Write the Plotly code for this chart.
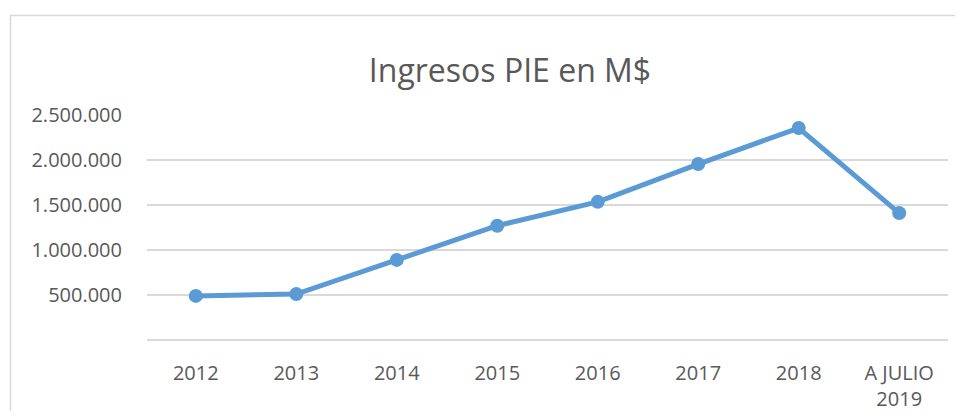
import plotly.graph_objects as go

categories = ["2012", "2013", "2014", "2015", "2016", "2017", "2018", "A JULIO<br>2019"]
ingresos = [490000, 510000, 890000, 1270000, 1535000, 1955000, 2355000, 1410000]
y_tickvals = [500000, 1000000, 1500000, 2000000, 2500000]
y_ticktext = ["500.000", "1.000.000", "1.500.000", "2.000.000", "2.500.000"]

# the page body adds an 8px margin; work in screen pixels and shift
OFF = 8
W, H = 963 - 2 * OFF, 419 - 2 * OFF
PL, PR, PT, PB = 147, 948, 115, 340  # plot area in screen pixels
L, T = PL - OFF, PT - OFF
R = W - (PR - OFF)
B = H - (PB - OFF)
pw = W - L - R
ph = H - T - B

def px(x):
    return (x - OFF - L) / pw

def py(y):
    return (H - B - (y - OFF)) / ph

fig = go.Figure()
fig.add_trace(go.Scatter(
    x=categories, y=ingresos, mode="lines+markers",
    line=dict(color="#5b9bd5", width=5),
    marker=dict(color="#5b9bd5", size=14),
    showlegend=False, hoverinfo="x+y", cliponaxis=False,
))

fig.update_layout(
    width=W, height=H,
    margin=dict(l=L, r=R, t=T, b=B, autoexpand=False),
    paper_bgcolor="white", plot_bgcolor="white",
    font=dict(family="Open Sans, Noto Sans, sans-serif", color="#595959", size=20),
    title=dict(text="Ingresos PIE en M$", x=(510 - OFF) / W, xref="container", xanchor="center",
               y=1 - (71 - OFF) / H, yref="container", yanchor="middle",
               font=dict(size=32, color="#595959")),
    xaxis=dict(showgrid=False, showline=False, zeroline=False, ticks="", automargin=False,
               ticklabelstandoff=19, tickfont=dict(size=20, color="#595959")),
    yaxis=dict(range=[0, 2500000], tickvals=y_tickvals, ticktext=y_ticktext, automargin=False,
               showgrid=True, gridcolor="#d9d9d9", gridwidth=1.5,
               zeroline=True, zerolinecolor="#d9d9d9", zerolinewidth=1.5,
               showline=False, ticks="", ticklabelstandoff=24,
               tickfont=dict(size=20, color="#595959")),
    shapes=[dict(type="rect", xref="paper", yref="paper",
                 x0=px(10.5), x1=px(980), y0=py(440), y1=py(15.5),
                 line=dict(color="#d9d9d9", width=1.5), layer="below")],
)

fig.write_html("out.html")
